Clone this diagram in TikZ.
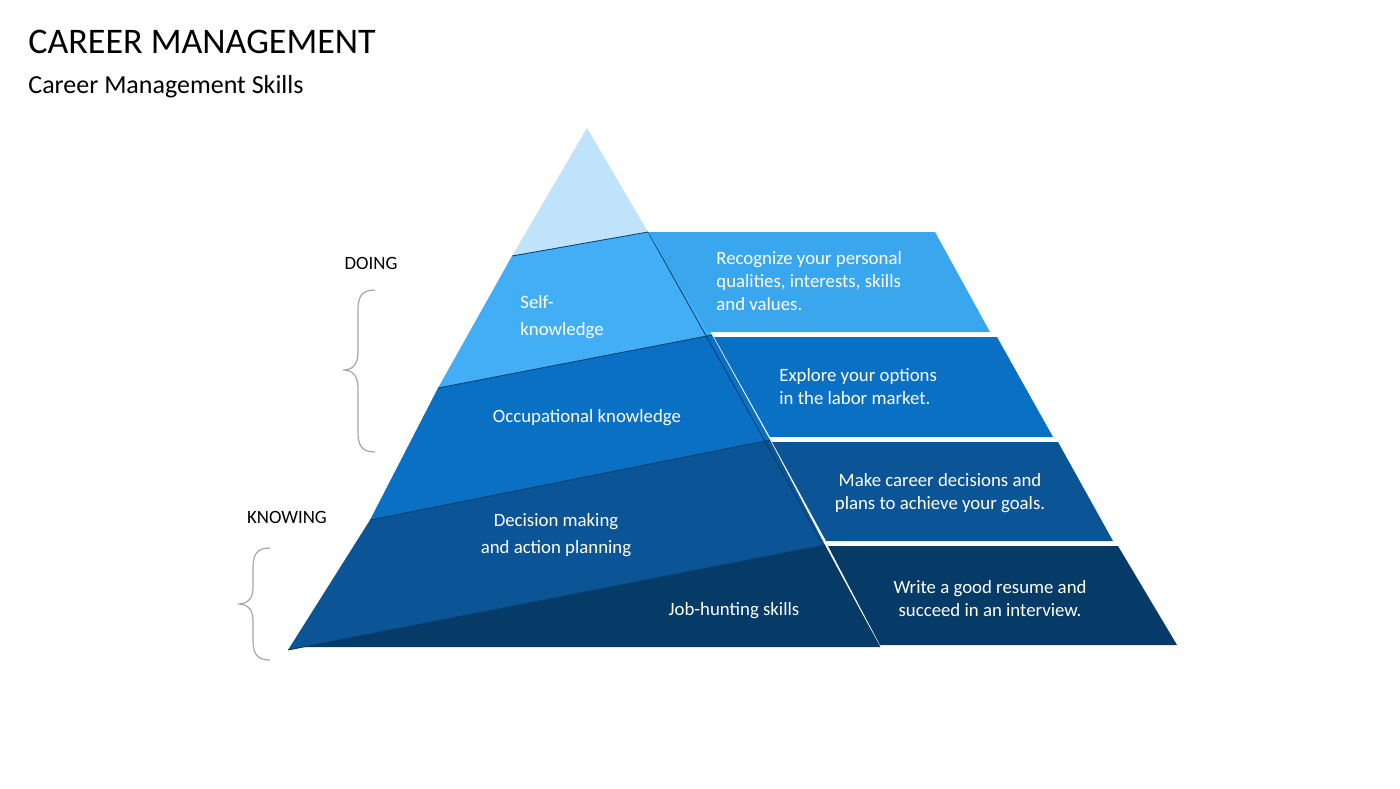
\documentclass[tikz,border=0pt]{standalone}
\usepackage{fontspec}
\setmainfont{Carlito}
\definecolor{cTop}{HTML}{BFE3FB}
\definecolor{cB1}{HTML}{42AEF5}
\definecolor{cB2}{HTML}{0A70C4}
\definecolor{cB3}{HTML}{0B5596}
\definecolor{cB4}{HTML}{063A67}
\definecolor{cR1}{HTML}{3AA6EE}
\definecolor{brc}{HTML}{A6A6A6}
\begin{document}
\begin{tikzpicture}[x=0.5pt,y=-0.5pt,
  wt/.style={text=white,font=\fontsize{9.4}{11.5}\selectfont,inner sep=0pt},
  bt/.style={text=black,font=\fontsize{9.4}{11.5}\selectfont,inner sep=0pt},
  brace/.style={draw=brc,line width=0.6pt}]
\useasboundingbox (0,0) rectangle (1400,788);
\fill[white] (0,0) rectangle (1400,788);
% left pyramid
\fill[cTop] (587,128) -- (648,232) -- (512,256) -- cycle;
\fill[cB1] (512,256) -- (648,232) -- (712,335) -- (438,388) -- cycle;
\fill[cB2] (438,388) -- (712,335) -- (770,440) -- (370,520) -- cycle;
\fill[cB3] (370,520) -- (770,440) -- (825,545) -- (288,650) -- cycle;
\fill[cB4] (288,650) -- (825,545) -- (880,647) -- (300,647) -- cycle;
\draw[cB3!70!black,line width=0.4pt] (512,256) -- (648,232) (438,388) -- (712,335) (370,520) -- (770,440) (288,650) -- (825,545) (648,232) -- (880,647);
% right bands
\fill[cR1] (648,232) -- (935,232) -- (990,332) -- (708,332) -- cycle;
\fill[cB2] (714,337) -- (997,337) -- (1053,437) -- (770,437) -- cycle;
\fill[cB3] (772,442) -- (1058,442) -- (1113,541) -- (826,541) -- cycle;
\fill[cB4] (828,546) -- (1118,546) -- (1177,645) -- (880,645) -- cycle;
% titles
\node[anchor=west,inner sep=0pt,font=\fontsize{18}{20}\selectfont] (title) at (28,42) {CAREER MANAGEMENT};
\node[anchor=west,inner sep=0pt,font=\fontsize{13}{15}\selectfont] (sub) at (28,87) {Career Management Skills};
% left texts
\node[wt,anchor=west,align=left] (t1) at (520,317) {Self-\\[2pt]knowledge};
\node[wt] (t2) at (587,418) {Occupational knowledge};
\node[wt,align=center] (t3) at (556,535) {Decision making\\[2pt]and action planning};
\node[wt] (t4) at (734,611) {Job-hunting skills};
% right texts
\node[wt,anchor=west,align=left] (r1) at (716,281) {Recognize your personal\\qualities, interests, skills\\and values.};
\node[wt,anchor=west,align=left] (r2) at (779,387) {Explore your options\\in the labor market.};
\node[wt,align=center] (r3) at (940,493) {Make career decisions and\\plans to achieve your goals.};
\node[wt,align=center] (r4) at (990,599) {Write a good resume and\\succeed in an interview.};
% side labels
\node[bt] (doing) at (371,263) {DOING};
\node[bt] (knowing) at (287,517) {KNOWING};
\draw[brace] (375,290) .. controls (362,290) and (358,296) .. (358,310) -- (358,352) .. controls (358,365) and (352,370) .. (343,370) .. controls (352,370) and (358,375) .. (358,388) -- (358,432) .. controls (358,446) and (362,452) .. (375,452);
\draw[brace] (270,548) .. controls (257,548) and (253,554) .. (253,568) -- (253,588) .. controls (253,600) and (246,604) .. (238,604) .. controls (246,604) and (253,608) .. (253,620) -- (253,640) .. controls (253,654) and (257,660) .. (270,660);
\end{tikzpicture}
\end{document}
